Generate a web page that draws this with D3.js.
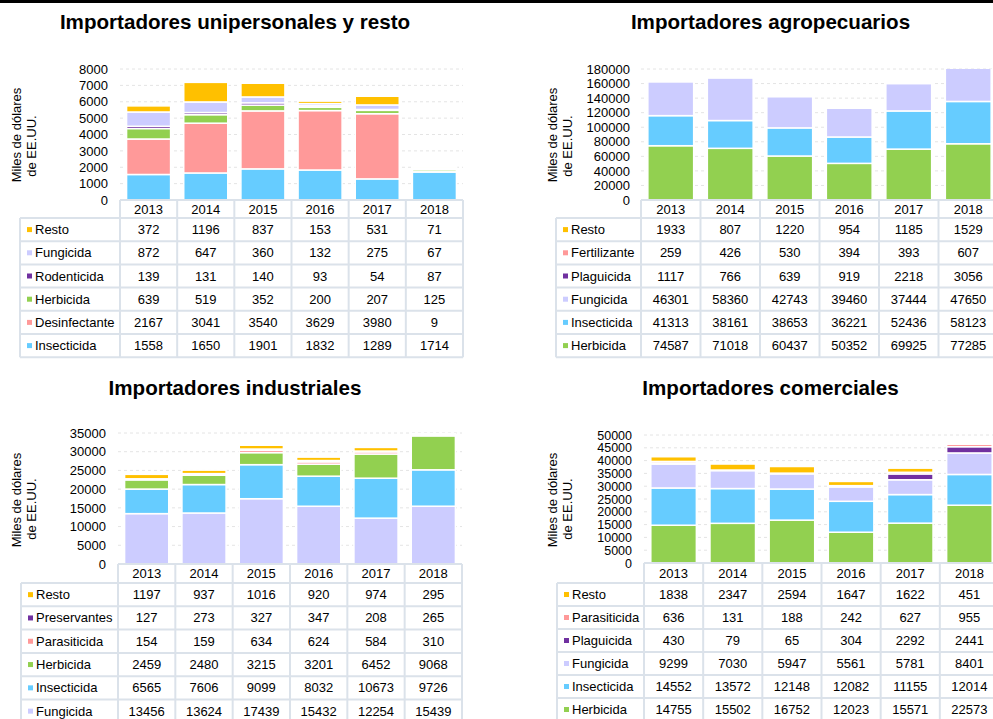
<!DOCTYPE html>
<html><head><meta charset="utf-8">
<script src="https://cdn.jsdelivr.net/npm/d3@7"></script>
<style>
body{margin:0;background:#fff;}
svg{display:block;font-family:"Liberation Sans",Arial,sans-serif;}
</style>
</head><body>
<svg id="c" width="993" height="719"></svg>
<script>
// ---------- DATA ----------
const years = ["2013","2014","2015","2016","2017","2018"];
const yTitle1 = "Miles de dólares";
const yTitle2 = "de EE.UU.";

// Panel 1: Importadores unipersonales y resto
const uniTitle = "Importadores unipersonales y resto";
const uniSeries = ["Resto","Fungicida","Rodenticida","Herbicida","Desinfectante","Insecticida"];
const uniResto        = [372, 1196, 837, 153, 531, 71];
const uniFungicida    = [872, 647, 360, 132, 275, 67];
const uniRodenticida  = [139, 131, 140, 93, 54, 87];
const uniHerbicida    = [639, 519, 352, 200, 207, 125];
const uniDesinfectante= [2167, 3041, 3540, 3629, 3980, 9];
const uniInsecticida  = [1558, 1650, 1901, 1832, 1289, 1714];
const uniTicks = [0,1000,2000,3000,4000,5000,6000,7000,8000];

// Panel 2: Importadores agropecuarios
const agroTitle = "Importadores agropecuarios";
const agroSeries = ["Resto","Fertilizante","Plaguicida","Fungicida","Insecticida","Herbicida"];
const agroPlotted = ["Fungicida","Insecticida","Herbicida"];
const agroResto       = [1933, 807, 1220, 954, 1185, 1529];
const agroFertilizante= [259, 426, 530, 394, 393, 607];
const agroPlaguicida  = [1117, 766, 639, 919, 2218, 3056];
const agroFungicida   = [46301, 58360, 42743, 39460, 37444, 47650];
const agroInsecticida = [41313, 38161, 38653, 36221, 52436, 58123];
const agroHerbicida   = [74587, 71018, 60437, 50352, 69925, 77285];
const agroTicks = [0,20000,40000,60000,80000,100000,120000,140000,160000,180000];

// Panel 3: Importadores industriales
const indTitle = "Importadores industriales";
const indSeries = ["Resto","Preservantes","Parasiticida","Herbicida","Insecticida","Fungicida"];
const indResto        = [1197, 937, 1016, 920, 974, 295];
const indPreservantes = [127, 273, 327, 347, 208, 265];
const indParasiticida = [154, 159, 634, 624, 584, 310];
const indHerbicida    = [2459, 2480, 3215, 3201, 6452, 9068];
const indInsecticida  = [6565, 7606, 9099, 8032, 10673, 9726];
const indFungicida    = [13456, 13624, 17439, 15432, 12254, 15439];
const indTicks = [0,5000,10000,15000,20000,25000,30000,35000];

// Panel 4: Importadores comerciales
const comTitle = "Importadores comerciales";
const comSeries = ["Resto","Parasiticida","Plaguicida","Fungicida","Insecticida","Herbicida"];
const comResto        = [1838, 2347, 2594, 1647, 1622, 451];
const comParasiticida = [636, 131, 188, 242, 627, 955];
const comPlaguicida   = [430, 79, 65, 304, 2292, 2441];
const comFungicida    = [9299, 7030, 5947, 5561, 5781, 8401];
const comInsecticida  = [14552, 13572, 12148, 12082, 11155, 12014];
const comHerbicida    = [14755, 15502, 16752, 12023, 15571, 22573];
const comTicks = [0,5000,10000,15000,20000,25000,30000,35000,40000,45000,50000];

// ---------- STYLES ----------
const colorOf = {
  Resto:"#FFC000", Fungicida:"#CCCCFF", Rodenticida:"#7030A0", Plaguicida:"#7030A0",
  Preservantes:"#7030A0", Herbicida:"#92D050", Desinfectante:"#FF9999",
  Fertilizante:"#FF9999", Parasiticida:"#FF9999", Insecticida:"#66CCFF"
};
const borderColor = "#dbe2ea";

const svg = d3.select("#c");
svg.append("rect").attr("x",0).attr("y",0).attr("width",993).attr("height",3).attr("fill","#000");

function panel(id, title, series, valueArrays, ticks, plotted, L) {
  const g = svg.append("g");
  const values = {};
  series.forEach((s,i)=> values[s] = valueArrays[i]);
  const rows = years.map((yr,j)=>{ const r={year:yr}; series.forEach(s=> r[s]=values[s][j]); return r; });

  // title
  g.append("text").attr("x",L.titleX).attr("y",L.titleY).attr("text-anchor","middle")
    .attr("font-size",20.6).attr("font-weight","bold").attr("fill","#000").text(title);

  const x = d3.scaleBand().domain(years).range([L.x0,L.x1]).paddingInner(0.23).paddingOuter(0.115);
  const xc = d3.scaleBand().domain(years).range([L.x0,L.x1]);
  const y = d3.scaleLinear().domain([0, d3.max(ticks)]).range([L.yBot, L.yTop]);

  // gridlines
  g.append("g").selectAll("line").data(ticks.filter(t=>t>0)).join("line")
    .attr("x1",L.x0).attr("x2",L.x1).attr("y1",d=>y(d)).attr("y2",d=>y(d))
    .attr("stroke","#e4e4e4").attr("stroke-width",1).attr("stroke-dasharray","3,3");

  // y axis labels
  const ax = g.append("g").attr("transform",`translate(${L.x0},0)`)
    .call(d3.axisLeft(y).tickValues(ticks).tickSize(0).tickPadding(L.x0-L.tickX).tickFormat(d3.format("d")));
  ax.select(".domain").remove();
  ax.selectAll("text").attr("font-size",L.tickFont).attr("fill","#000").attr("font-family","Liberation Sans, Arial, sans-serif");

  // y title
  g.append("text").attr("transform",`translate(${L.ytX},${L.ytY1}) rotate(-90)`)
    .attr("text-anchor","middle").attr("font-size",13).attr("fill","#000").text(yTitle1);
  g.append("text").attr("transform",`translate(${L.ytX+15},${L.ytY2}) rotate(-90)`)
    .attr("text-anchor","middle").attr("font-size",13).attr("fill","#000").text(yTitle2);

  // bars
  g.append("clipPath").attr("id","clip"+id).append("rect")
    .attr("x",L.x0).attr("y",L.yTop).attr("width",L.x1-L.x0).attr("height",L.yBot-L.yTop);
  const stackKeys = series.filter(s=>plotted.includes(s)).reverse();
  const stacked = d3.stack().keys(stackKeys)(rows);
  g.append("g").attr("clip-path",`url(#clip${id})`)
    .selectAll("g").data(stacked).join("g").attr("fill",d=>colorOf[d.key])
    .selectAll("rect").data(d=>d).join("rect")
    .attr("x",d=>x(d.data.year)).attr("width",x.bandwidth())
    .attr("y",d=>y(d[1])).attr("height",d=>Math.max(0,y(d[0])-y(d[1])))
    .attr("stroke","#fff").attr("stroke-width",1.5);

  // table
  const tb = g.append("g");
  const tableBottom = L.yBot + L.headH + series.length*L.rowH;
  tb.selectAll("text.h").data(years).join("text").attr("class","h")
    .attr("x",d=>xc(d)+xc.bandwidth()/2).attr("y",L.yBot+L.headH/2+4.5)
    .attr("text-anchor","middle").attr("font-size",13).attr("fill","#000").text(d=>d);
  series.forEach((s,i)=>{
    const cy = L.yBot + L.headH + i*L.rowH + L.rowH/2;
    tb.append("rect").attr("x",L.labX+7).attr("y",cy-2.5).attr("width",5).attr("height",5).attr("fill",colorOf[s]);
    tb.append("text").attr("x",L.labX+15).attr("y",cy+4.5).attr("font-size",13).attr("fill","#000").text(s);
    tb.selectAll(null).data(values[s]).join("text")
      .attr("x",(d,j)=>xc(years[j])+xc.bandwidth()/2).attr("y",cy+4.5)
      .attr("text-anchor","middle").attr("font-size",13).attr("fill","#000").text(d=>d);
  });
  const hl = [L.yBot + L.headH];
  series.forEach((s,i)=> hl.push(L.yBot + L.headH + (i+1)*L.rowH));
  tb.append("line").attr("x1",L.x0).attr("x2",L.x1).attr("y1",L.yBot).attr("y2",L.yBot)
    .attr("stroke",borderColor).attr("stroke-width",2);
  tb.selectAll("line.hr").data(hl).join("line").attr("class","hr")
    .attr("x1",L.labX).attr("x2",L.x1).attr("y1",d=>d).attr("y2",d=>d)
    .attr("stroke",borderColor).attr("stroke-width",2);
  const vx = years.map(yr=>xc(yr)).concat([L.x1]);
  tb.selectAll("line.vr").data(vx).join("line").attr("class","vr")
    .attr("x1",d=>d).attr("x2",d=>d).attr("y1",L.yBot).attr("y2",tableBottom)
    .attr("stroke",borderColor).attr("stroke-width",2);
  tb.append("line").attr("x1",L.labX).attr("x2",L.labX).attr("y1",L.yBot+L.headH).attr("y2",tableBottom)
    .attr("stroke",borderColor).attr("stroke-width",2);
}

panel(1, uniTitle, uniSeries,
  [uniResto,uniFungicida,uniRodenticida,uniHerbicida,uniDesinfectante,uniInsecticida],
  uniTicks, uniSeries,
  {titleX:235,titleY:28.5,x0:120,x1:463,yTop:69,yBot:200,tickX:108,tickFont:13,ytX:21,ytY1:135,ytY2:146,labX:20,headH:18,rowH:23.2});

panel(2, agroTitle, agroSeries,
  [agroResto,agroFertilizante,agroPlaguicida,agroFungicida,agroInsecticida,agroHerbicida],
  agroTicks, agroPlotted,
  {titleX:770.5,titleY:28.5,x0:641,x1:998,yTop:69,yBot:200,tickX:630,tickFont:13,ytX:557,ytY1:135,ytY2:146,labX:556,headH:18,rowH:23.2});

panel(3, indTitle, indSeries,
  [indResto,indPreservantes,indParasiticida,indHerbicida,indInsecticida,indFungicida],
  indTicks, indSeries,
  {titleX:235,titleY:395,x0:118,x1:462,yTop:433,yBot:564,tickX:106,tickFont:13,ytX:21,ytY1:500,ytY2:509,labX:21,headH:19,rowH:23.3});

panel(4, comTitle, comSeries,
  [comResto,comParasiticida,comPlaguicida,comFungicida,comInsecticida,comHerbicida],
  comTicks, comSeries,
  {titleX:770.5,titleY:395,x0:644,x1:999,yTop:435,yBot:563,tickX:632,tickFont:12.5,ytX:557,ytY1:500,ytY2:509,labX:557,headH:20,rowH:23});
</script>
</body></html>
